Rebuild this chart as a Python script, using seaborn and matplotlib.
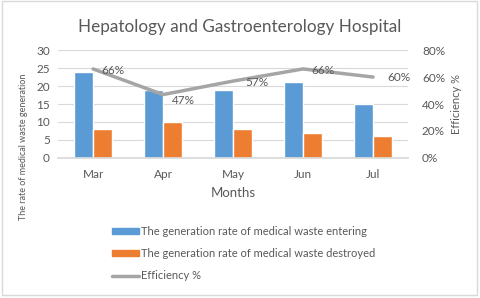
import matplotlib
matplotlib.use("Agg")
import matplotlib.pyplot as plt
import seaborn as sns
import pandas as pd
import numpy as np
from matplotlib.patches import Patch, Rectangle
from matplotlib.lines import Line2D
from matplotlib.ticker import PercentFormatter

months = ["Mar", "Apr", "May", "Jun", "Jul"]
entering = [24, 19, 19, 21, 15]
destroyed = [8, 10, 8, 7, 6]
efficiency = [66, 47, 57, 66, 60]
s1 = "The generation rate of medical waste entering"
s2 = "The generation rate of medical waste destroyed"
s3 = "Efficiency %"

sns.set_theme(style="white")
plt.rcParams['font.family'] = ['Lato', 'DejaVu Sans']
txt = "#595959"

df = pd.DataFrame({
    "Month": months * 2,
    "Value": entering + destroyed,
    "Series": [s1] * len(months) + [s2] * len(months),
})

fig = plt.figure(figsize=(4.8, 2.98), dpi=100)
fig.patches.append(Rectangle((0.004, 0.01), 0.99, 0.985, transform=fig.transFigure,
                             fill=False, edgecolor="#D9D9D9", lw=1))
ax = fig.add_axes([0.121, 0.470, 0.729, 0.362])
sns.barplot(data=df, x="Month", y="Value", hue="Series", ax=ax,
            palette=["#5B9BD5", "#ED7D31"], width=0.55, gap=0, legend=False,
            saturation=1)
ax.set_ylim(0, 30)
ax.set_yticks(range(0, 31, 5))
ax.grid(axis="y", color="#D9D9D9", lw=0.8)
ax.set_axisbelow(True)
for s in ax.spines.values():
    s.set_visible(False)
ax.spines["bottom"].set_visible(True)
ax.spines["bottom"].set_color("#D9D9D9")
ax.tick_params(axis="y", colors=txt, labelsize=8.5, length=0, pad=6)
ax.tick_params(axis="x", colors=txt, labelsize=8.5, length=0, pad=8)
ax.set_xlabel("Months", color=txt, fontsize=9.5, labelpad=5)
ax.set_ylabel("The rate of medical waste generation", color=txt, fontsize=6.5)
ax.yaxis.set_label_coords(-0.085, 0.5 - 0.4)
ax.yaxis.label.set_verticalalignment("bottom")

ax2 = ax.twinx()
x = np.arange(len(months))
sns.lineplot(x=x, y=efficiency, ax=ax2, color="#A5A5A5", lw=2.5)
ax2.set_ylim(0, 80)
ax2.set_yticks(range(0, 81, 20))
ax2.yaxis.set_major_formatter(PercentFormatter(decimals=0))
for s in ax2.spines.values():
    s.set_visible(False)
ax2.tick_params(axis="y", colors=txt, labelsize=8.5, length=0, pad=10)
ax2.set_ylabel("Efficiency %", color=txt, fontsize=8)
ax2.grid(False)
offsets = [(0.12, -1), (0.12, -4.5), (0.17, -1), (0.12, -1), (0.2, -0.5)]
for xi, v, (dx, dy) in zip(x, efficiency, offsets):
    ax2.text(xi + dx, v + dy, f"{v}%", color=txt, fontsize=8.5, va="center", ha="left")
ax.set_xlim(-0.5, len(months) - 0.5)

fig.suptitle("Hepatology and Gastroenterology Hospital", color=txt, fontsize=12.3, y=0.935)

handles = [Patch(color="#5B9BD5"), Patch(color="#ED7D31"),
           Line2D([], [], color="#A5A5A5", lw=2.5)]
fig.legend(handles, [s1, s2, s3], loc="upper left", bbox_to_anchor=(0.222, 0.26),
           frameon=False, fontsize=8, labelcolor=txt, labelspacing=1.0,
           handlelength=2.4, handleheight=0.5, handletextpad=0.2, borderpad=0)

fig.savefig("out.png", dpi=100)
